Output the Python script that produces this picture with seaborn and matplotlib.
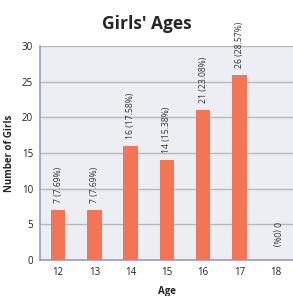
import matplotlib
matplotlib.use("Agg")
import matplotlib.pyplot as plt
import seaborn as sns
import pandas as pd

# chart data
ages = ["12", "13", "14", "15", "16", "17", "18"]
counts = [7, 7, 16, 14, 21, 26, 0]
labels = ["7 (7.69%)", "7 (7.69%)", "16 (17.58%)", "14 (15.38%)",
          "21 (23.08%)", "26 (28.57%)", "0 (0%)"]

sns.set_theme(style="whitegrid")
plt.rcParams['font.family'] = ['Open Sans', 'DejaVu Sans']

df = pd.DataFrame({"Age": ages, "Girls": counts})

fig = plt.figure(figsize=(2.93, 2.96), dpi=100)
ax = fig.add_axes([0.1365, 0.1216, 0.866, 0.723])
ax.set_facecolor("#eceef3")

sns.barplot(data=df, x="Age", y="Girls", color="#f47556", width=0.4,
            saturation=1, linewidth=0, ax=ax, zorder=3)

for i, (c, lab) in enumerate(zip(counts, labels)):
    if c == 0:
        ax.annotate(lab, (i, 3.6), ha="center", va="center", rotation=-90,
                    fontsize=6.2, color="#333333", zorder=4)
    else:
        ax.annotate(lab, (i, c), xytext=(0, 5), textcoords="offset points",
                    ha="center", va="bottom", rotation=90,
                    fontsize=6.2, color="#333333", zorder=4)

ax.set_ylim(0, 30)
ax.set_yticks([0, 5, 10, 15, 20, 25, 30])
ax.set_xlim(-0.5, 6.5)
ax.grid(axis="y", color="#b8b8b8", linewidth=1.0, zorder=0)
ax.grid(axis="x", visible=False)
for s in ["top", "right"]:
    ax.spines[s].set_visible(False)
ax.spines["left"].set_color("#9a9acb")
ax.spines["left"].set_linewidth(1.2)
ax.spines["bottom"].set_color("#9a9acb")
ax.spines["bottom"].set_linewidth(1.2)
ax.tick_params(axis="both", labelsize=7, colors="#222222", length=0, pad=5)

ax.set_xlabel("Age", fontsize=7, fontweight="bold", labelpad=6)
ax.set_ylabel("Number of Girls", fontsize=7, fontweight="bold", labelpad=5)
fig.suptitle("Girls' Ages", fontsize=12.5, fontweight="bold", y=0.95)

fig.savefig("out.png", dpi=100)
